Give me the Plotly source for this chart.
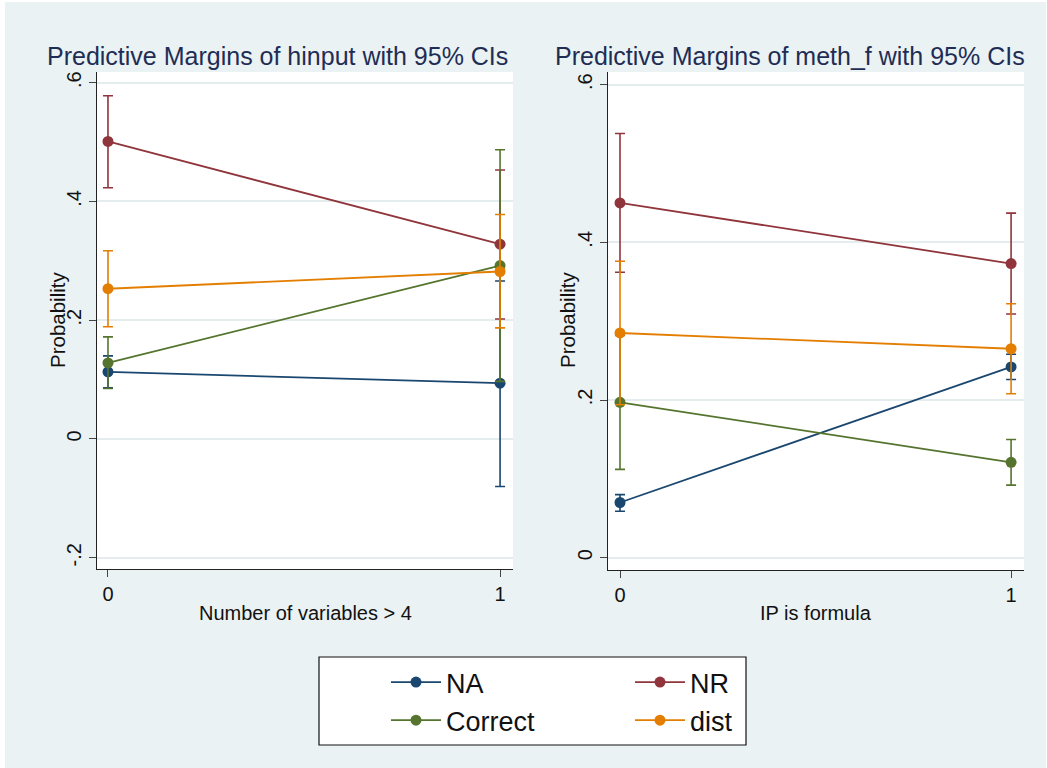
import plotly.graph_objects as go

W, H = 1047, 768

series = ["NA", "NR", "Correct", "dist"]
colors = {"NA": "#1a476f", "NR": "#90353b", "Correct": "#55752f", "dist": "#e37e00"}

x_levels = [0, 1]

# Left panel: hinput (Number of variables > 4)
hinput_mean = {"NA": [0.113, 0.094], "NR": [0.501, 0.328], "Correct": [0.128, 0.292], "dist": [0.253, 0.282]}
hinput_lo = {"NA": [0.086, -0.080], "NR": [0.423, 0.202], "Correct": [0.085, 0.097], "dist": [0.189, 0.187]}
hinput_hi = {"NA": [0.140, 0.266], "NR": [0.578, 0.453], "Correct": [0.172, 0.487], "dist": [0.317, 0.378]}

# Right panel: meth_f (IP is formula)
meth_mean = {"NA": [0.070, 0.242], "NR": [0.450, 0.373], "Correct": [0.197, 0.121], "dist": [0.285, 0.265]}
meth_lo = {"NA": [0.059, 0.226], "NR": [0.362, 0.309], "Correct": [0.112, 0.092], "dist": [0.194, 0.208]}
meth_hi = {"NA": [0.080, 0.258], "NR": [0.538, 0.437], "Correct": [0.282, 0.150], "dist": [0.376, 0.322]}

ytick_left_vals = [-0.2, 0, 0.2, 0.4, 0.6]
ytick_left_text = ["-.2", "0", ".2", ".4", ".6"]
ytick_right_vals = [0, 0.2, 0.4, 0.6]
ytick_right_text = ["0", ".2", ".4", ".6"]
xtick_vals = [0, 1]
xtick_text = ["0", "1"]

titles = ["Predictive Margins of hinput with 95% CIs", "Predictive Margins of meth_f with 95% CIs"]
xtitles = ["Number of variables > 4", "IP is formula"]
ytitle = "Probability"

BG = "#eaf2f3"
GRID = "#e4ecee"
TITLE_C = "#1f2d55"
FONT = "Liberation Sans, Arial, Helvetica, sans-serif"

fig = go.Figure()

legend_of = {"NA": "legend", "Correct": "legend", "NR": "legend2", "dist": "legend2"}

for panel, (mean, lo, hi, xa, ya) in enumerate([
    (hinput_mean, hinput_lo, hinput_hi, "x", "y"),
    (meth_mean, meth_lo, meth_hi, "x2", "y2"),
]):
    for s in series:
        m = mean[s]
        up = [h - v for h, v in zip(hi[s], m)]
        dn = [v - l for v, l in zip(m, lo[s])]
        fig.add_trace(go.Scatter(
            x=x_levels, y=m, xaxis=xa, yaxis=ya,
            mode="lines+markers", name=s,
            line=dict(color=colors[s], width=1.8),
            marker=dict(color=colors[s], size=11),
            error_y=dict(type="data", symmetric=False, array=up, arrayminus=dn,
                         color=colors[s], thickness=1.6, width=5),
            showlegend=(panel == 0), legend=legend_of[s],
        ))

def px_x(p):
    return p / W

def px_y(p):
    return 1 - p / H

axis_common = dict(showline=True, linecolor="#222222", linewidth=1.4, ticks="outside",
                   tickcolor="#444444", ticklen=7, tickwidth=1.3, zeroline=False,
                   tickfont=dict(family=FONT, size=20, color="#111111"))

fig.update_layout(
    width=W, height=H,
    margin=dict(l=0, r=0, t=0, b=0, pad=0),
    paper_bgcolor=BG, plot_bgcolor="white",
    font=dict(family=FONT, color="#111111"),
    xaxis=dict(domain=[px_x(97), px_x(513)], range=[-0.028, 1.033], tickvals=xtick_vals,
               ticktext=xtick_text, showgrid=False, anchor="y", **axis_common),
    yaxis=dict(domain=[px_y(569), px_y(72)], range=[-0.219, 0.618], tickvals=ytick_left_vals,
               ticktext=ytick_left_text, tickangle=-90, showgrid=True, gridcolor=GRID, gridwidth=1.5,
               anchor="x", **axis_common),
    xaxis2=dict(domain=[px_x(608), px_x(1024)], range=[-0.0307, 1.033], tickvals=xtick_vals,
                ticktext=xtick_text, showgrid=False, anchor="y2", **axis_common),
    yaxis2=dict(domain=[px_y(570), px_y(72)], range=[-0.0156, 0.616], tickvals=ytick_right_vals,
                ticktext=ytick_right_text, tickangle=-90, showgrid=True, gridcolor=GRID, gridwidth=1.5,
                anchor="x2", **axis_common),
    legend=dict(x=px_x(386), y=px_y(658), xanchor="left", yanchor="top", orientation="v",
                bgcolor="rgba(0,0,0,0)", borderwidth=0, itemwidth=50, tracegroupgap=0,
                font=dict(family=FONT, size=27, color="#111111"), traceorder="normal"),
    legend2=dict(x=px_x(630), y=px_y(658), xanchor="left", yanchor="top", orientation="v",
                 bgcolor="rgba(0,0,0,0)", borderwidth=0, itemwidth=50, tracegroupgap=0,
                 font=dict(family=FONT, size=27, color="#111111"), traceorder="normal"),
    showlegend=True,
)

annotations = []
for cx, t in zip([277, 790], titles):
    annotations.append(dict(x=px_x(cx), y=px_y(56), xref="paper", yref="paper", text=t,
                            showarrow=False, xanchor="center", yanchor="middle",
                            font=dict(family=FONT, size=25, color=TITLE_C)))
for cx, t in zip([305, 816], xtitles):
    annotations.append(dict(x=px_x(cx), y=px_y(613), xref="paper", yref="paper", text=t,
                            showarrow=False, xanchor="center", yanchor="middle",
                            font=dict(family=FONT, size=20, color="#111111")))
for cx in [57, 567]:
    annotations.append(dict(x=px_x(cx), y=px_y(320), xref="paper", yref="paper", text=ytitle,
                            showarrow=False, xanchor="center", yanchor="middle", textangle=-90,
                            font=dict(family=FONT, size=20.5, color="#111111")))
fig.update_layout(annotations=annotations)

shapes = [
    # legend box
    dict(type="rect", xref="paper", yref="paper", x0=px_x(319), x1=px_x(746), y0=px_y(745), y1=px_y(657),
         fillcolor="white", line=dict(color="#111111", width=1.2), layer="above"),
    # thin white outer border
    dict(type="rect", xref="paper", yref="paper", x0=0, x1=px_x(5), y0=0, y1=1,
         fillcolor="white", line=dict(width=0), layer="above"),
    dict(type="rect", xref="paper", yref="paper", x0=0, x1=1, y0=px_y(2), y1=1,
         fillcolor="white", line=dict(width=0), layer="above"),
    dict(type="rect", xref="paper", yref="paper", x0=px_x(1046), x1=1, y0=0, y1=1,
         fillcolor="white", line=dict(width=0), layer="above"),
]
fig.update_layout(shapes=shapes)

fig.write_html("out.html")
